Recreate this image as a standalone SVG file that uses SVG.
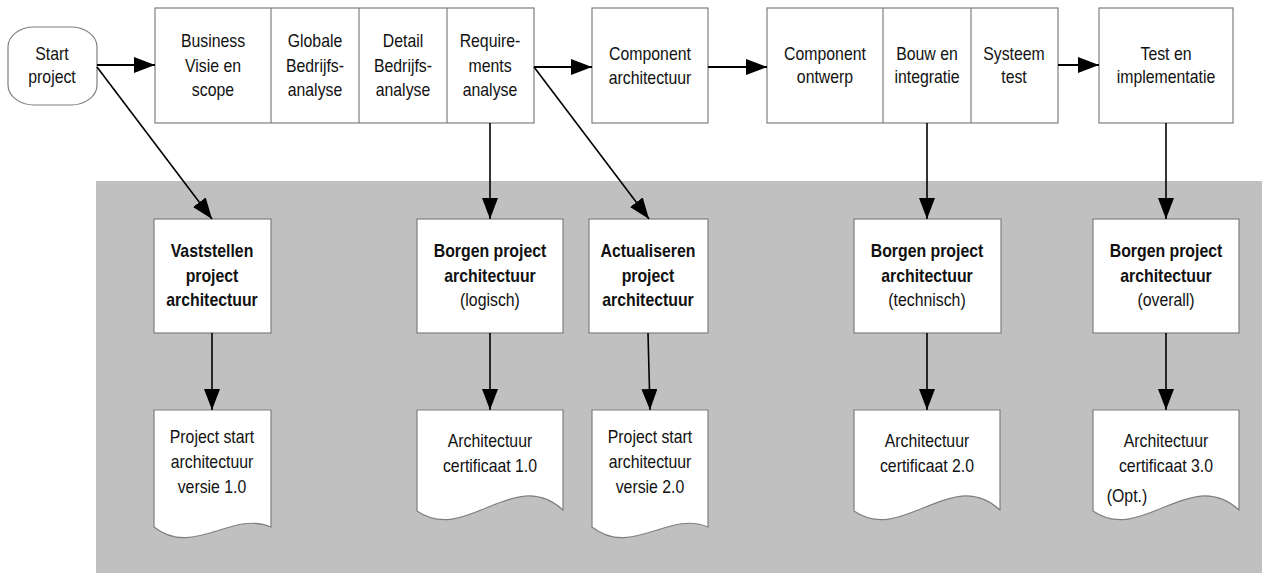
<svg xmlns="http://www.w3.org/2000/svg" width="1267" height="573" viewBox="0 0 1267 573">
<style>
.box{fill:#ffffff;stroke:#7f7f7f;stroke-width:1.2}
.div{stroke:#7f7f7f;stroke-width:1.2}
.t{font-family:"Liberation Sans",Arial,sans-serif;font-size:18px;fill:#111;text-anchor:middle;transform-box:fill-box;transform-origin:center;transform:scaleX(0.88)}
.b{font-weight:bold}
.c{fill:none;stroke:#000;stroke-width:2}
.d{fill:none;stroke:#000;stroke-width:1.6}
</style>
<defs>
<marker id="ah" markerUnits="userSpaceOnUse" markerWidth="22" markerHeight="16" refX="21" refY="8" orient="auto">
<path d="M0,0 L21,8 L0,16 z" fill="#000"/>
</marker>
</defs>
<rect id="band" x="96" y="181" width="1166" height="392" fill="#c0c0c0"/>

<g id="start">
<rect class="box" x="8" y="27" width="89" height="78" rx="26" ry="20"/>
<text class="t" x="52" y="60">Start</text>
<text class="t" x="52" y="83">project</text>
</g>

<g id="phase1">
<rect class="box" x="155" y="8" width="379" height="115"/>
<line class="div" x1="271" y1="8" x2="271" y2="123"/>
<line class="div" x1="359" y1="8" x2="359" y2="123"/>
<line class="div" x1="447" y1="8" x2="447" y2="123"/>
<text class="t" x="213" y="47">Business</text>
<text class="t" x="213" y="72">Visie en</text>
<text class="t" x="213" y="96">scope</text>
<text class="t" x="315" y="47">Globale</text>
<text class="t" x="315" y="72">Bedrijfs-</text>
<text class="t" x="315" y="96">analyse</text>
<text class="t" x="403" y="47">Detail</text>
<text class="t" x="403" y="72">Bedrijfs-</text>
<text class="t" x="403" y="96">analyse</text>
<text class="t" x="490" y="47">Require-</text>
<text class="t" x="490" y="72">ments</text>
<text class="t" x="490" y="96">analyse</text>
</g>

<g id="comparch">
<rect class="box" x="592" y="8" width="116" height="115"/>
<text class="t" x="650" y="60">Component</text>
<text class="t" x="650" y="84">architectuur</text>
</g>

<g id="phase3">
<rect class="box" x="767" y="8" width="291" height="115"/>
<line class="div" x1="883" y1="8" x2="883" y2="123"/>
<line class="div" x1="971" y1="8" x2="971" y2="123"/>
<text class="t" x="825" y="60">Component</text>
<text class="t" x="825" y="83">ontwerp</text>
<text class="t" x="927" y="60">Bouw en</text>
<text class="t" x="927" y="83">integratie</text>
<text class="t" x="1014" y="60">Systeem</text>
<text class="t" x="1014" y="83">test</text>
</g>

<g id="testimpl">
<rect class="box" x="1099" y="8" width="134" height="115"/>
<text class="t" x="1166" y="60">Test en</text>
<text class="t" x="1166" y="83">implementatie</text>
</g>

<g id="p1">
<rect class="box" x="154" y="219" width="117" height="114"/>
<text class="t b" x="212" y="257">Vaststellen</text>
<text class="t b" x="212" y="282">project</text>
<text class="t b" x="212" y="306">architectuur</text>
</g>
<g id="p2">
<rect class="box" x="417" y="219" width="146" height="114"/>
<text class="t b" x="490" y="257">Borgen project</text>
<text class="t b" x="490" y="282">architectuur</text>
<text class="t" x="490" y="306">(logisch)</text>
</g>
<g id="p3">
<rect class="box" x="589" y="219" width="119" height="114"/>
<text class="t b" x="648" y="257">Actualiseren</text>
<text class="t b" x="648" y="282">project</text>
<text class="t b" x="648" y="306">architectuur</text>
</g>
<g id="p4">
<rect class="box" x="854" y="219" width="147" height="114"/>
<text class="t b" x="927" y="257">Borgen project</text>
<text class="t b" x="927" y="282">architectuur</text>
<text class="t" x="927" y="306">(technisch)</text>
</g>
<g id="p5">
<rect class="box" x="1093" y="219" width="146" height="114"/>
<text class="t b" x="1166" y="257">Borgen project</text>
<text class="t b" x="1166" y="282">architectuur</text>
<text class="t" x="1166" y="306">(overall)</text>
</g>

<g id="d1">
<path class="box" d="M154,410 H271 V527 C232,510 193,558 154,527 Z"/>
<text class="t" x="212" y="443">Project start</text>
<text class="t" x="212" y="468">architectuur</text>
<text class="t" x="212" y="493">versie 1.0</text>
</g>
<g id="d2">
<path class="box" d="M417,410 H563 V510 C514,465 466,545 417,511 Z"/>
<text class="t" x="490" y="447">Architectuur</text>
<text class="t" x="490" y="472">certificaat 1.0</text>
</g>
<g id="d3">
<path class="box" d="M592,410 H708 V527 C669,510 631,558 592,527 Z"/>
<text class="t" x="650" y="443">Project start</text>
<text class="t" x="650" y="468">architectuur</text>
<text class="t" x="650" y="493">versie 2.0</text>
</g>
<g id="d4">
<path class="box" d="M854,410 H1000 V510 C951,465 903,545 854,511 Z"/>
<text class="t" x="927" y="447">Architectuur</text>
<text class="t" x="927" y="472">certificaat 2.0</text>
</g>
<g id="d5">
<path class="box" d="M1093,410 H1239 V510 C1190,465 1142,545 1093,511 Z"/>
<text class="t" x="1166" y="447">Architectuur</text>
<text class="t" x="1166" y="472">certificaat 3.0</text>
<text class="t" x="1104" y="502" style="text-anchor:start">(Opt.)</text>
</g>

<g id="connectors">
<line class="c" x1="97" y1="65" x2="155" y2="65" marker-end="url(#ah)"/>
<line class="c" x1="534" y1="67" x2="592" y2="67" marker-end="url(#ah)"/>
<line class="c" x1="708" y1="67" x2="767" y2="67" marker-end="url(#ah)"/>
<line class="c" x1="1058" y1="65" x2="1099" y2="65" marker-end="url(#ah)"/>
<line class="d" x1="97" y1="67" x2="212" y2="219" marker-end="url(#ah)"/>
<line class="d" x1="534" y1="67" x2="649" y2="219" marker-end="url(#ah)"/>
<line class="d" x1="490" y1="123" x2="490" y2="219" marker-end="url(#ah)"/>
<line class="d" x1="927" y1="123" x2="927" y2="219" marker-end="url(#ah)"/>
<line class="d" x1="1166" y1="123" x2="1166" y2="219" marker-end="url(#ah)"/>
<line class="d" x1="212" y1="333" x2="212" y2="410" marker-end="url(#ah)"/>
<line class="d" x1="490" y1="333" x2="490" y2="410" marker-end="url(#ah)"/>
<line class="d" x1="648" y1="333" x2="650" y2="410" marker-end="url(#ah)"/>
<line class="d" x1="927" y1="333" x2="927" y2="410" marker-end="url(#ah)"/>
<line class="d" x1="1166" y1="333" x2="1166" y2="410" marker-end="url(#ah)"/>
</g>
</svg>
